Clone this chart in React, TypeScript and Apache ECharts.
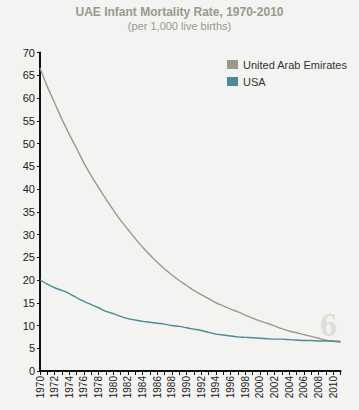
import React, { useEffect, useRef } from "react";
import * as echarts from "echarts";

const years: string[] = [];
for (let y = 1970; y <= 2011; y++) years.push(String(y));

const uaeName = "United Arab Emirates";
const usaName = "USA";

const uaeValues = [
  66.6, 62.5, 58.9, 55.3, 52.0, 48.9, 45.7, 42.9, 40.3, 37.8,
  35.4, 33.1, 31.1, 29.1, 27.2, 25.5, 23.9, 22.4, 21.1, 19.9,
  18.8, 17.7, 16.8, 15.9, 15.0, 14.3, 13.6, 13.0, 12.3, 11.6,
  11.0, 10.5, 9.9, 9.3, 8.8, 8.4, 8.0, 7.6, 7.2, 6.8,
  6.5, 6.3,
];

const usaValues = [
  20.0, 19.1, 18.3, 17.7, 17.0, 16.1, 15.3, 14.6, 13.9, 13.1,
  12.6, 12.0, 11.5, 11.2, 10.9, 10.7, 10.5, 10.3, 10.0, 9.8,
  9.5, 9.2, 8.9, 8.5, 8.1, 7.9, 7.7, 7.5, 7.4, 7.3,
  7.2, 7.1, 7.0, 7.0, 6.9, 6.8, 6.7, 6.7, 6.6, 6.6,
  6.6, 6.5,
];

const titleText = "UAE Infant Mortality Rate, 1970-2010";
const subtitleText = "(per 1,000 live births)";
const pageNumber = "6";

export default function App() {
  const ref = useRef<HTMLDivElement>(null);
  useEffect(() => {
    document.body.style.margin = "0";
    const chart = echarts.init(ref.current!, null, { renderer: "svg" });
    const font = "Liberation Sans, Arial, sans-serif";
    chart.setOption({
      animation: false,
      backgroundColor: "#f3f3f1",
      textStyle: { fontFamily: font },
      title: {
        text: titleText,
        subtext: subtitleText,
        left: "center",
        top: 1,
        itemGap: 2,
        textStyle: { fontSize: 12, fontWeight: "bold", color: "#9a998b", fontFamily: font },
        subtextStyle: { fontSize: 11, color: "#9a998b", fontFamily: font },
      },
      legend: {
        orient: "vertical",
        left: 222,
        top: 54,
        itemWidth: 11,
        itemHeight: 9,
        itemGap: 6,
        icon: "rect",
        textStyle: { fontSize: 11, color: "#333", fontFamily: font },
        data: [uaeName, usaName],
      },
      grid: { left: 40, top: 52.5, right: 18.5, bottom: 39, containLabel: false },
      xAxis: {
        type: "category",
        data: years,
        boundaryGap: false,
        axisLine: { lineStyle: { color: "#111", width: 2 } },
        axisTick: { interval: 0, length: 4, lineStyle: { color: "#111" } },
        axisLabel: {
          interval: 1,
          rotate: 90,
          fontSize: 10,
          color: "#222",
          margin: 5,
          fontFamily: font,
        },
        splitLine: { show: false },
      },
      yAxis: {
        type: "value",
        min: 0,
        max: 70,
        interval: 5,
        axisLine: { show: true, lineStyle: { color: "#111", width: 2 } },
        axisTick: { show: true, length: 3, lineStyle: { color: "#111" } },
        axisLabel: { fontSize: 11, color: "#222", margin: 5, fontFamily: font },
        splitLine: { show: false },
      },
      series: [
        {
          name: uaeName,
          type: "line",
          data: uaeValues.map((v, i) =>
            i === 0
              ? {
                  value: v,
                  label: {
                    show: true,
                    position: "right",
                    offset: [1, -2],
                    formatter: (p: any) => String(Math.round(p.value)),
                    fontSize: 11,
                    color: "#222",
                    fontFamily: font,
                  },
                }
              : v
          ),
          showSymbol: false,
          symbol: "none",
          smooth: 0.3,
          lineStyle: { color: "#9c9a87", width: 1.4 },
          itemStyle: { color: "#9c9a87" },
        },
        {
          name: usaName,
          type: "line",
          data: usaValues,
          showSymbol: false,
          symbol: "none",
          smooth: 0.3,
          lineStyle: { color: "#4a8b96", width: 1.4 },
          itemStyle: { color: "#4a8b96" },
        },
      ],
      graphic: [
        {
          type: "text",
          right: 22,
          top: 307,
          style: {
            text: pageNumber,
            fontSize: 34,
            fontWeight: "bold",
            fontFamily: "Liberation Serif, DejaVu Serif, serif",
            fill: "#dfddd7",
          },
        },
      ],
    });
    return () => chart.dispose();
  }, []);
  return (
    <div
      ref={ref}
      style={{ position: "absolute", left: 0, top: 0, width: 359, height: 410 }}
    />
  );
}
